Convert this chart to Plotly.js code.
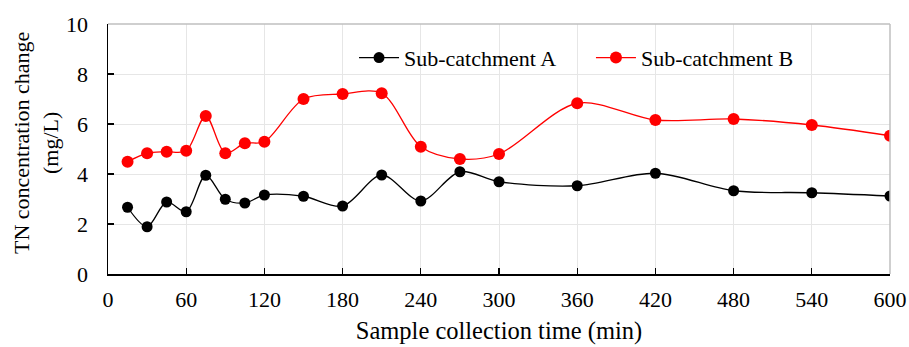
<!DOCTYPE html>
<html>
<head>
<meta charset="utf-8">
<script src="https://cdn.plot.ly/plotly-3.0.1.min.js"></script>
<style>html,body{margin:0;padding:0;background:#fff;}#chart{width:909px;height:347px;}</style>
</head>
<body>
<div id="chart"></div>
<script>
var times = [15, 30, 45, 60, 75, 90, 105, 120, 150, 180, 210, 240, 270, 300, 360, 420, 480, 540, 600];
var seriesA = [2.67, 1.89, 2.88, 2.49, 3.95, 2.99, 2.84, 3.16, 3.11, 2.72, 3.96, 2.92, 4.09, 3.69, 3.53, 4.03, 3.33, 3.25, 3.12];
var seriesB = [4.49, 4.83, 4.89, 4.93, 6.32, 4.83, 5.23, 5.29, 7.0, 7.2, 7.23, 5.09, 4.6, 4.8, 6.83, 6.16, 6.2, 5.96, 5.53];
var nameA = "Sub-catchment A";
var nameB = "Sub-catchment B";
var xTicks = [0, 60, 120, 180, 240, 300, 360, 420, 480, 540, 600];
var yTicks = [0, 2, 4, 6, 8, 10];
var xTitle = "Sample collection time (min)";
var yTitle = "TN concentration change<br>(mg/L)";

var font = "Times New Roman, Liberation Serif, serif";

var traces = [
  {x: times, y: seriesA, name: nameA, type: "scatter", mode: "lines+markers", legend: "legend",
   line: {color: "#000000", width: 1.3, shape: "spline", smoothing: 0.9},
   marker: {color: "#000000", size: 11}},
  {x: times, y: seriesB, name: nameB, type: "scatter", mode: "lines+markers", legend: "legend2",
   line: {color: "#ff0000", width: 1.3, shape: "spline", smoothing: 0.9},
   marker: {color: "#ff0000", size: 12}}
];

var legendCommon = {orientation: "h", xanchor: "left", y: 0.865, yanchor: "middle",
                    bgcolor: "rgba(0,0,0,0)", font: {family: font, size: 22, color: "#000"}, itemwidth: 40};

var layout = {
  width: 909, height: 347,
  margin: {l: 108, r: 19, t: 24, b: 73, autoexpand: false},
  paper_bgcolor: "#ffffff", plot_bgcolor: "#ffffff",
  font: {family: font, size: 22, color: "#000000"},
  showlegend: true,
  legend: Object.assign({}, legendCommon, {x: 0.3146}),
  legend2: Object.assign({}, legendCommon, {x: 0.6176}),
  xaxis: {range: [0, 600], tickvals: xTicks, ticktext: xTicks.map(String),
          showgrid: true, gridcolor: "#e6e6e6", gridwidth: 1,
          showline: true, linecolor: "#000", linewidth: 1.5,
          ticks: "inside", ticklen: 6, tickcolor: "#000", tickwidth: 1.3,
          ticklabelstandoff: 5, zeroline: false, automargin: false,
          tickfont: {family: font, size: 22, color: "#000"},
          title: {text: xTitle, font: {family: font, size: 24.5, color: "#000"}, standoff: 11}},
  yaxis: {range: [0, 10], tickvals: yTicks, ticktext: yTicks.map(String),
          showgrid: true, gridcolor: "#e6e6e6", gridwidth: 1,
          showline: true, linecolor: "#000", linewidth: 1.5,
          ticks: "inside", ticklen: 6, tickcolor: "#000", tickwidth: 1.3,
          ticklabelstandoff: 14, zeroline: false, automargin: false,
          tickfont: {family: font, size: 22, color: "#000"}},
  shapes: [
    {type: "line", xref: "paper", yref: "paper", x0: 0, x1: 1, y0: 1, y1: 1, line: {color: "#bfbfbf", width: 1.5}},
    {type: "line", xref: "paper", yref: "paper", x0: 1, x1: 1, y0: 0, y1: 1, line: {color: "#bfbfbf", width: 1.5}}
  ],
  annotations: [
    {text: yTitle, xref: "paper", yref: "paper", x: 0, y: 0.5, xanchor: "center", yanchor: "middle",
     xshift: -72, yshift: 6, textangle: -90, showarrow: false, align: "center",
     font: {family: font, size: 22, color: "#000"}}
  ]
};

Plotly.newPlot("chart", traces, layout, {displayModeBar: false, staticPlot: true});
</script>
</body>
</html>
